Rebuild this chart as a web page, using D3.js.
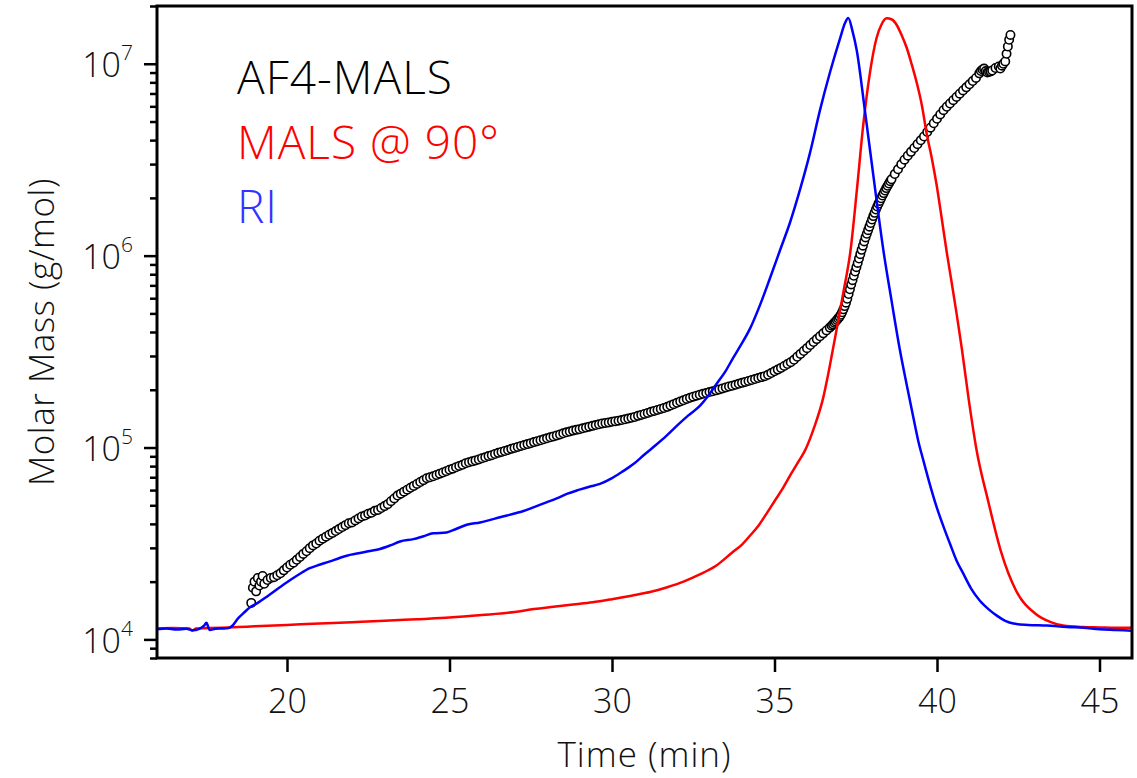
<!DOCTYPE html>
<html>
<head>
<meta charset="utf-8">
<script src="https://cdn.jsdelivr.net/npm/d3@7"></script>
<style>
  body { margin: 0; background: #fff; }
  svg text { font-family: "Open Sans", sans-serif; font-weight: 300; }
</style>
</head>
<body>
<script>
// axis ranges and ticks
const timeRange = [16, 46];
const massRange = [8000, 2e7];
const timeTicks = [20, 25, 30, 35, 40, 45];
const massTicks = [1e4, 1e5, 1e6, 1e7];

// legend entries (text, colour)
const legendLabels = ["AF4-MALS", "MALS @ 90°", "RI"];
const legendColors = ["#000000", "#ff0000", "#3333ff"];

// AF4-MALS molar mass, [time (min), g/mol]
const molarMass = [
  [18.9, 15500], [18.95, 18600], [19.0, 20000], [19.05, 17800], [19.1, 20900], [19.15, 19100],
  [19.2, 20000], [19.25, 21400], [19.3, 19500], [19.4, 20400], [19.5, 20900], [19.6, 21100],
  [19.7, 21600], [19.8, 22100], [19.9, 22900], [20.0, 23700], [20.1, 24500], [20.2, 25100],
  [20.3, 26000], [20.4, 26900], [20.5, 27900], [20.6, 28800], [20.7, 29900], [20.8, 30900],
  [20.9, 31600], [21.0, 32700], [21.1, 33500], [21.2, 34300], [21.3, 35100], [21.4, 35900],
  [21.5, 36700], [21.6, 37600], [21.7, 38500], [21.8, 39400], [21.9, 40300], [22.0, 40700],
  [22.1, 41700], [22.2, 42700], [22.3, 43700], [22.4, 44200], [22.5, 45200], [22.6, 45700],
  [22.7, 46800], [22.8, 47300], [22.9, 48400], [23.0, 49500], [23.1, 50700], [23.2, 52500],
  [23.3, 54300], [23.4, 56200], [23.5, 57500], [23.6, 58900], [23.7, 60300], [23.8, 61700],
  [23.9, 63100], [24.0, 64600], [24.1, 66100], [24.2, 67600], [24.3, 69200], [24.4, 70000],
  [24.5, 70800], [24.6, 71900], [24.7, 73100], [24.8, 74100], [24.9, 75300], [25.0, 76600],
  [25.1, 77600], [25.2, 78900], [25.3, 80200], [25.4, 81300], [25.5, 82800], [25.6, 83800],
  [25.7, 84700], [25.8, 85700], [25.9, 86700], [26.0, 87900], [26.1, 88900], [26.2, 90200],
  [26.3, 91200], [26.4, 92500], [26.5, 93800], [26.6, 94800], [26.7, 95900], [26.8, 97000],
  [26.9, 98400], [27.0, 99500], [27.1, 100700], [27.2, 101900], [27.3, 103000], [27.4, 104200],
  [27.5, 105400], [27.6, 106700], [27.7, 107900], [27.8, 109100], [27.9, 110400], [28.0, 111700],
  [28.1, 113000], [28.2, 114300], [28.3, 115600], [28.4, 117000], [28.5, 118600], [28.6, 120000],
  [28.7, 121100], [28.8, 122500], [28.9, 123600], [29.0, 124700], [29.1, 125900], [29.2, 127100],
  [29.3, 128500], [29.4, 129700], [29.5, 130900], [29.6, 132100], [29.7, 133400], [29.8, 134300],
  [29.9, 135200], [30.0, 136100], [30.1, 137100], [30.2, 138000], [30.3, 139000], [30.4, 140300],
  [30.5, 141600], [30.6, 142900], [30.7, 144200], [30.8, 146200], [30.9, 147900], [31.0, 149600],
  [31.1, 151400], [31.2, 153500], [31.3, 155200], [31.4, 157000], [31.5, 158900], [31.6, 160700],
  [31.7, 162900], [31.8, 165600], [31.9, 168300], [32.0, 171000], [32.1, 173800], [32.2, 176200],
  [32.3, 179100], [32.4, 181600], [32.5, 184100], [32.6, 186200], [32.7, 188400], [32.8, 190500],
  [32.9, 192300], [33.0, 194500], [33.1, 196300], [33.2, 198600], [33.3, 200900], [33.4, 203200],
  [33.5, 205600], [33.6, 208000], [33.7, 209900], [33.8, 212300], [33.9, 214800], [34.0, 217300],
  [34.1, 219800], [34.2, 222300], [34.3, 224900], [34.4, 227500], [34.5, 230100], [34.6, 232800],
  [34.7, 235500], [34.8, 239300], [34.9, 244300], [35.0, 249500], [35.1, 254700], [35.2, 260000],
  [35.3, 266100], [35.4, 272300], [35.5, 278600], [35.6, 286400], [35.7, 297200], [35.8, 307600],
  [35.9, 318400], [36.0, 329600], [36.1, 342000], [36.2, 354800], [36.3, 367300], [36.4, 380200],
  [36.5, 393600], [36.6, 407400], [36.7, 421700], [36.76, 431500], [36.8, 438500], [36.84, 446700],
  [36.88, 454000], [36.92, 462400], [36.96, 470900], [37.0, 479800], [37.04, 492000], [37.08, 507000],
  [37.12, 524800], [37.16, 545800], [37.2, 568900], [37.24, 595700], [37.28, 631000], [37.32, 668300],
  [37.36, 707900], [37.4, 744700], [37.44, 785200], [37.48, 826000], [37.52, 871000], [37.56, 916200],
  [37.6, 966100], [37.64, 1018000], [37.68, 1072000], [37.72, 1127000], [37.76, 1186000], [37.8, 1245000],
  [37.84, 1300000], [37.88, 1358000], [37.92, 1416000], [37.96, 1479000], [38.0, 1542000], [38.04, 1607000],
  [38.08, 1671000], [38.12, 1738000], [38.16, 1803000], [38.2, 1866000], [38.24, 1928000], [38.28, 1991000],
  [38.32, 2056000], [38.36, 2118000], [38.4, 2183000], [38.44, 2249000], [38.48, 2312000], [38.52, 2377000],
  [38.56, 2443000], [38.6, 2500000], [38.7, 2661000], [38.8, 2818000], [38.9, 2992000], [39.0, 3162000],
  [39.1, 3319000], [39.2, 3475000], [39.3, 3639000], [39.4, 3811000], [39.5, 3990000], [39.6, 4178000],
  [39.7, 4406000], [39.8, 4645000], [39.9, 4898000], [40.0, 5164000], [40.1, 5445000], [40.2, 5728000],
  [40.3, 5970000], [40.4, 6209000], [40.5, 6457000], [40.6, 6714000], [40.7, 6982000], [40.8, 7261000],
  [40.9, 7534000], [41.0, 7816000], [41.1, 8128000], [41.2, 8433000], [41.3, 8913000], [41.35, 9162000],
  [41.4, 9333000], [41.45, 9441000], [41.5, 9162000], [41.55, 9016000], [41.6, 9078000], [41.65, 9120000],
  [41.7, 9226000], [41.8, 9506000], [41.9, 9683000], [41.95, 9441000], [42.0, 9772000], [42.04, 10000000],
  [42.1, 10280000], [42.14, 11270000], [42.18, 12300000], [42.22, 13340000], [42.26, 14130000]
];

// light scattering at 90 degrees, [time, scaled signal]
const mals90 = [
  [16.0, 11400], [16.5, 11450], [17.0, 11400], [17.08, 11100], [17.2, 11400], [17.6, 11450],
  [18.0, 11500], [18.5, 11600], [19.0, 11700], [20.0, 11900], [21.0, 12100], [22.0, 12300],
  [23.0, 12500], [24.0, 12750], [25.0, 13000], [26.0, 13400], [27.0, 13900], [27.6, 14400],
  [28.2, 14800], [28.8, 15200], [29.4, 15600], [30.0, 16200], [30.6, 16900], [31.2, 17700],
  [31.7, 18700], [32.2, 20000], [32.7, 21800], [33.2, 24200], [33.7, 28400], [34.0, 31200],
  [34.25, 34800], [34.5, 39000], [34.75, 45100], [35.0, 52500], [35.25, 61000], [35.5, 72400],
  [35.75, 85100], [35.94, 96600], [36.22, 127400], [36.5, 182000], [36.65, 240000], [36.81, 334200],
  [37.12, 644200], [37.34, 1067000], [37.54, 2249000], [37.73, 4786000], [37.94, 9057000], [38.14, 13620000],
  [38.3, 16110000], [38.45, 17260000], [38.61, 17010000], [38.76, 15930000], [38.91, 14130000], [39.07, 12080000],
  [39.22, 9954000], [39.38, 7925000], [39.54, 6012000], [39.68, 4345000], [39.84, 3221000], [39.99, 2328000],
  [40.14, 1585000], [40.3, 1042000], [40.45, 726100], [40.61, 489800], [40.76, 331100], [40.98, 176200],
  [41.22, 96600], [41.57, 53000], [41.96, 29040], [42.43, 17990], [43.02, 13650], [43.5, 12300],
  [43.88, 11800], [44.5, 11600], [45.0, 11550], [45.5, 11500], [46.0, 11500]
];

// refractive index, [time, scaled signal]
const riSignal = [
  [16.0, 11300], [16.3, 11400], [16.6, 11250], [16.9, 11350], [17.1, 11150], [17.3, 11350],
  [17.45, 11800], [17.52, 12200], [17.62, 11200], [17.8, 11350], [18.0, 11400], [18.2, 11450],
  [18.3, 11700], [18.5, 12900], [18.7, 13900], [18.86, 14700], [19.1, 15500], [19.4, 16800],
  [19.78, 18700], [20.1, 20400], [20.4, 22000], [20.7, 23500], [21.0, 24500], [21.32, 25500],
  [21.6, 26500], [21.84, 27300], [22.2, 28100], [22.5, 28800], [22.86, 29600], [23.2, 31000],
  [23.48, 32400], [23.89, 33300], [24.2, 34500], [24.5, 35700], [24.91, 36100], [25.2, 37600],
  [25.53, 39600], [25.94, 40700], [26.2, 41700], [26.55, 43300], [27.0, 45300], [27.3, 46800],
  [27.58, 48800], [28.0, 51900], [28.3, 54300], [28.61, 57300], [29.0, 60300], [29.3, 62500],
  [29.63, 64600], [30.0, 69200], [30.3, 74500], [30.66, 82000], [31.0, 92000], [31.35, 103000],
  [31.68, 115300], [32.0, 130000], [32.35, 147000], [32.71, 165200], [33.0, 190000], [33.22, 214800],
  [33.5, 251000], [33.72, 291700], [33.94, 336500], [34.25, 417800], [34.55, 550800], [34.86, 762100],
  [35.17, 1067000], [35.48, 1493000], [35.78, 2193000], [36.09, 3420000], [36.4, 5736000], [36.71, 9057000],
  [37.02, 13620000], [37.17, 16300000], [37.27, 17300000], [37.4, 14800000], [37.53, 11770000], [37.78, 5728000],
  [38.14, 1945000], [38.35, 1067000], [38.6, 584800], [38.86, 321400], [39.06, 215800], [39.27, 144200],
  [39.42, 108900], [39.58, 85700], [39.78, 64300], [39.99, 48900], [40.2, 38700], [40.4, 31500],
  [40.6, 25800], [40.81, 22000], [41.05, 18400], [41.32, 15900], [41.6, 14300], [41.84, 13300],
  [42.1, 12500], [42.35, 12100], [42.8, 11900], [43.38, 11800], [44.0, 11600], [44.5, 11500],
  [45.0, 11300], [45.5, 11200], [46.0, 11100]
];

const width = 1137;
const height = 778;
const margin = { top: 6, right: 5, bottom: 120, left: 157 };

const x = d3.scaleLinear().domain(timeRange).range([margin.left, width - margin.right]);
const y = d3.scaleLog().domain(massRange).range([height - margin.bottom, margin.top]);

const svg = d3.select("body").append("svg")
  .attr("width", width)
  .attr("height", height);

// molar mass points (open circles)
svg.append("g")
  .selectAll("circle")
  .data(molarMass)
  .join("circle")
  .attr("cx", d => x(d[0]))
  .attr("cy", d => y(d[1]))
  .attr("r", 4.2)
  .attr("fill", "#fff")
  .attr("stroke", "#000")
  .attr("stroke-width", 1.6);

const line = d3.line()
  .x(d => x(d[0]))
  .y(d => y(d[1]))
  .curve(d3.curveMonotoneX);

svg.append("path")
  .datum(mals90)
  .attr("d", line)
  .attr("fill", "none")
  .attr("stroke", "#ff0000")
  .attr("stroke-width", 2.5)
  .attr("stroke-linejoin", "round");

svg.append("path")
  .datum(riSignal)
  .attr("d", line)
  .attr("fill", "none")
  .attr("stroke", "#0000ff")
  .attr("stroke-width", 2.5)
  .attr("stroke-linejoin", "round");

// x axis
const xAxis = svg.append("g")
  .attr("transform", `translate(0,${height - margin.bottom})`)
  .call(d3.axisBottom(x).tickValues(timeTicks).tickSize(14).tickPadding(17).tickSizeOuter(0));
xAxis.select(".domain").remove();
xAxis.selectAll(".tick line").attr("stroke", "#000").attr("stroke-width", 2.5);
xAxis.selectAll(".tick text")
  .attr("font-family", null)
  .attr("font-size", 34)
  .attr("fill", "#111");

// y axis, minor ticks
const minorTicks = y.ticks().filter(v => !massTicks.includes(v));
const yMinor = svg.append("g")
  .attr("transform", `translate(${margin.left},0)`)
  .call(d3.axisLeft(y).tickValues(minorTicks).tickSize(7).tickFormat(""));
yMinor.select(".domain").remove();
yMinor.selectAll(".tick line").attr("stroke", "#000").attr("stroke-width", 2.5);

// y axis, decades
const yMajor = svg.append("g")
  .attr("transform", `translate(${margin.left},0)`)
  .call(d3.axisLeft(y).tickValues(massTicks).tickSize(13).tickFormat(""));
yMajor.select(".domain").remove();
yMajor.selectAll(".tick line").attr("stroke", "#000").attr("stroke-width", 2.5);

const yLabels = svg.append("g")
  .selectAll("text")
  .data(massTicks)
  .join("text")
  .attr("x", 133)
  .attr("y", d => y(d))
  .attr("dy", "0.4em")
  .attr("text-anchor", "end")
  .attr("font-size", 34)
  .attr("fill", "#111");
yLabels.append("tspan").text("10");
yLabels.append("tspan")
  .attr("dy", -17)
  .attr("font-size", 21)
  .text(d => Math.round(Math.log10(d)));

// plot frame
svg.append("rect")
  .attr("x", margin.left)
  .attr("y", margin.top)
  .attr("width", width - margin.right - margin.left)
  .attr("height", height - margin.bottom - margin.top)
  .attr("fill", "none")
  .attr("stroke", "#000")
  .attr("stroke-width", 3);

// axis titles
svg.append("text")
  .attr("x", (margin.left + width - margin.right) / 2)
  .attr("y", 767)
  .attr("text-anchor", "middle")
  .attr("font-size", 35)
  .attr("letter-spacing", 1)
  .attr("fill", "#111")
  .text("Time (min)");

svg.append("text")
  .attr("transform", `translate(54,${(margin.top + height - margin.bottom) / 2}) rotate(-90)`)
  .attr("text-anchor", "middle")
  .attr("font-size", 35)
  .attr("letter-spacing", 0.5)
  .attr("fill", "#111")
  .text("Molar Mass (g/mol)");

// legend
svg.append("g")
  .selectAll("text")
  .data(legendLabels)
  .join("text")
  .attr("x", 237)
  .attr("y", (d, i) => 94 + i * 64.5)
  .attr("font-size", 46)
  .attr("letter-spacing", 1)
  .attr("fill", (d, i) => legendColors[i])
  .text(d => d);
</script>
</body>
</html>
